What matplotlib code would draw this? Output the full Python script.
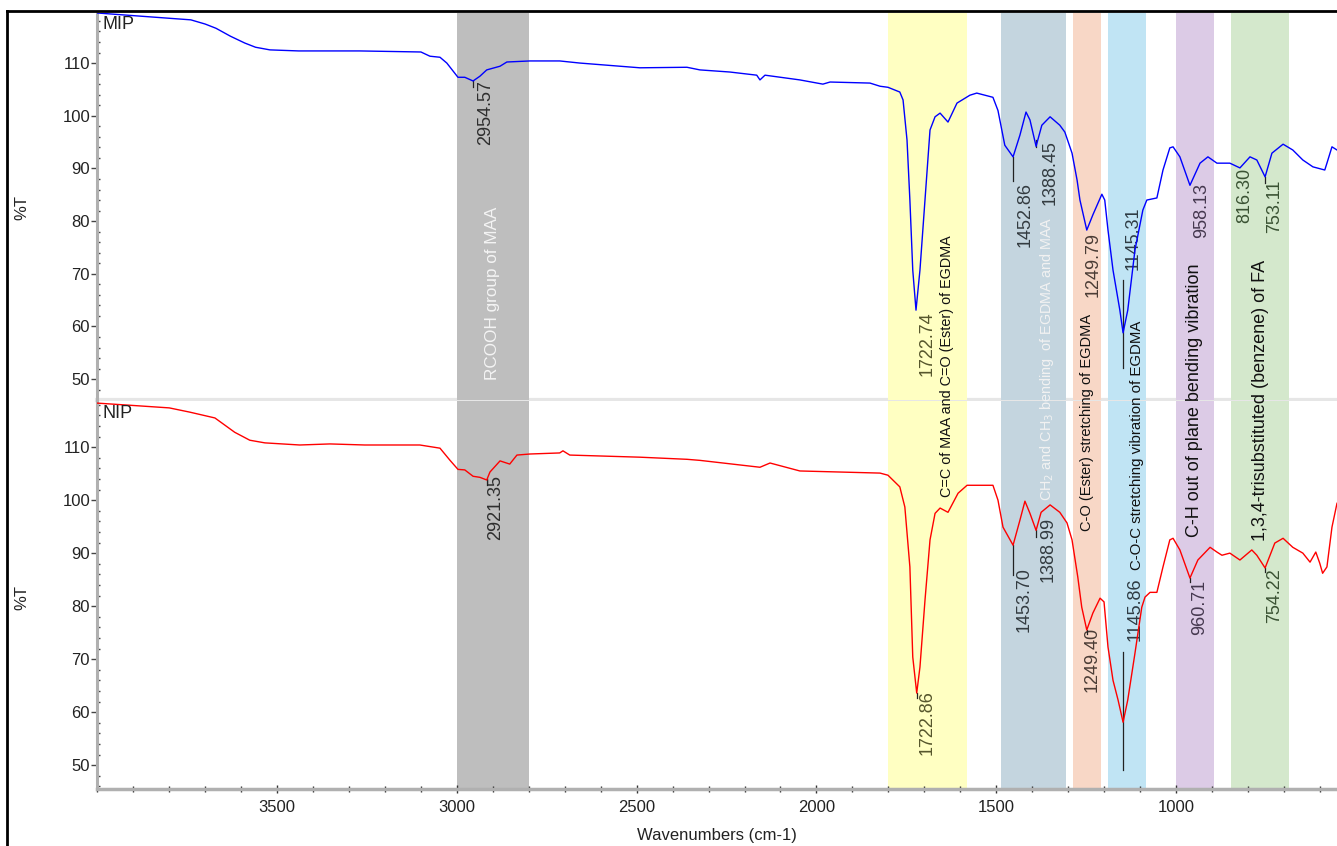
import numpy as np
import matplotlib
matplotlib.use("Agg")
import matplotlib.pyplot as plt
from matplotlib.lines import Line2D
from matplotlib.transforms import blended_transform_factory
from matplotlib.ticker import MultipleLocator, FixedLocator

plt.rcParams['font.family'] = ['Liberation Sans', 'DejaVu Sans']

# ---------------- data ----------------
mip_wn = [4000, 3880, 3740, 3700, 3670, 3630, 3590, 3560, 3520, 3440, 3270, 3100, 3075, 3047, 3028,
          2997, 2978, 2955, 2936, 2917, 2880, 2861, 2797, 2714, 2658, 2491, 2360, 2324, 2241, 2166,
          2157, 2143, 2046, 1982, 1962, 1851, 1823, 1801, 1768, 1759, 1748, 1740, 1732, 1723, 1712,
          1698, 1684, 1670, 1656, 1634, 1609, 1573, 1554, 1509, 1495, 1476, 1453, 1434, 1417, 1406,
          1389, 1373, 1350, 1323, 1309, 1289, 1275, 1267, 1248, 1231, 1206, 1198, 1189, 1175, 1156,
          1147, 1134, 1114, 1092, 1081, 1053, 1036, 1017, 1008, 989, 961, 933, 911, 886, 850,
          822, 794, 775, 752, 733, 702, 675, 647, 619, 586, 580, 566, 552]
mip_t = [119.5, 118.9, 118.2, 117.4, 116.6, 115.1, 113.8, 113.0, 112.5, 112.3, 112.3, 112.1, 111.3, 111.1, 110.0,
         107.3, 107.3, 106.6, 107.5, 108.7, 109.4, 110.2, 110.4, 110.4, 110.0, 109.1, 109.2, 108.7, 108.3, 107.7,
         106.8, 107.7, 106.8, 106.0, 106.4, 106.2, 105.6, 105.4, 104.5, 103.0, 95.4, 84.0, 70.7, 63.1, 70.7,
         84.0, 97.3, 99.8, 100.5, 98.8, 102.4, 103.9, 104.3, 103.5, 101.0, 94.4, 92.2, 96.3, 100.7, 99.2,
         94.2, 98.2, 99.8, 98.2, 96.9, 92.9, 87.8, 84.0, 78.3, 81.2, 85.1, 84.0, 78.3, 70.7, 63.1,
         58.8, 63.1, 74.5, 82.1, 84.0, 84.4, 89.7, 93.9, 94.1, 92.2, 86.8, 91.0, 92.2, 91.0, 91.0,
         90.1, 92.2, 91.6, 88.4, 92.9, 94.6, 93.5, 91.6, 90.3, 89.7, 91.0, 94.1, 93.5]

nip_wn = [4000, 3910, 3800, 3743, 3673, 3618, 3576, 3534, 3437, 3353, 3256, 3103, 3047, 3019, 2997,
          2978, 2955, 2936, 2917, 2908, 2880, 2853, 2833, 2797, 2714, 2705, 2686, 2491, 2360, 2324,
          2157, 2129, 2046, 1823, 1801, 1768, 1754, 1740, 1732, 1721, 1712, 1698, 1684, 1670, 1656,
          1634, 1606, 1581, 1509, 1495, 1481, 1453, 1434, 1420, 1406, 1389, 1375, 1350, 1323, 1303,
          1289, 1273, 1262, 1248, 1231, 1211, 1200, 1189, 1175, 1161, 1147, 1134, 1114, 1095, 1086,
          1072, 1053, 1036, 1017, 1008, 989, 961, 939, 905, 886, 872, 850, 822, 789, 775,
          752, 725, 702, 675, 647, 627, 611, 600, 592, 580, 566, 552]
nip_t = [118.3, 117.9, 117.4, 116.6, 115.5, 112.8, 111.3, 110.8, 110.4, 110.6, 110.4, 110.4, 109.8, 107.5, 105.8,
         105.7, 104.5, 104.3, 103.8, 105.3, 107.4, 106.8, 108.5, 108.7, 108.9, 109.3, 108.5, 108.1, 107.7, 107.5,
         106.2, 107.0, 105.5, 105.1, 104.7, 102.5, 98.7, 87.4, 70.4, 63.6, 68.5, 81.1, 92.5, 97.5, 98.5,
         97.7, 101.3, 102.8, 102.8, 100.0, 94.9, 91.5, 96.2, 99.8, 97.5, 94.3, 97.7, 99.1, 97.7, 95.7,
         92.5, 85.5, 79.8, 75.5, 78.7, 81.5, 80.8, 72.3, 66.0, 62.3, 58.1, 62.3, 71.1, 79.8, 81.7,
         82.6, 82.6, 87.4, 92.5, 92.8, 90.6, 85.3, 88.7, 91.1, 90.2, 89.6, 90.0, 88.7, 90.6, 89.6,
         87.2, 91.9, 92.8, 91.1, 90.0, 88.3, 90.2, 88.1, 86.2, 87.4, 94.9, 99.4]

band_hi = [3000, 1800, 1487, 1287, 1189, 1000, 847]
band_lo = [2800, 1580, 1306, 1209, 1083, 894, 686]
band_labels = ["RCOOH group of MAA",
               "C=C of MAA and C=O (Ester) of EGDMA",
               "CH$_2$ and CH$_3$ bending  of EGDMA and MAA",
               "C-O (Ester) stretching of EGDMA",
               "C-O-C stretching vibration of EGDMA",
               "C-H out of plane bending vibration",
               "1,3,4-trisubstituted (benzene) of FA"]

mip_peaks = ["2954.57", "1722.74", "1452.86", "1388.45", "1249.79", "1145.31", "958.13", "816.30", "753.11"]
nip_peaks = ["2921.35", "1722.86", "1453.70", "1388.99", "1249.40", "1145.86", "960.71", "754.22"]

x_ticks = [3500, 3000, 2500, 2000, 1500, 1000]
y_ticks = [50, 60, 70, 80, 90, 100, 110]

# ---------------- styling / layout ----------------
band_colors = ['#bebebe', '#ffffc2', '#c4d5df', '#f8d7c6', '#c0e4f4', '#dccbe6', '#d4e8cc']
band_text_colors = ['#f4f4f4', '#111111', '#f2f2f2', '#111111', '#111111', '#111111', '#111111']
band_text_sizes = [12.3, 10.4, 10.4, 10.5, 10.8, 13, 13]
band_text_x = [2900, 1637, 1359, 1248, 1109, 947, 766]
band_text_ypix = [293, 366, 359, 422, 445, 400, 400]

# peak label layout: (x centre, top value, colour)
mip_lab = [(2919, 106.8, '#2e2e2e'), (1693, 62.8, '#56562c'), (1420, 87.4, '#333b40'),
           (1350, 95.4, '#333b40'), (1231, 77.9, '#4a3c35'), (1120, 82.7, '#2f3c44'),
           (928, 87.2, '#45384f'), (808, 90.1, '#3a5233'), (725, 87.8, '#3a5233')]
nip_lab = [(2892, 104.7, '#2e2e2e'), (1693, 64.2, '#56562c'), (1423, 87.4, '#333b40'),
           (1356, 96.8, '#333b40'), (1234, 76.0, '#4a3c35'), (1114, 85.5, '#2f3c44'),
           (933, 84.9, '#45384f'), (725, 87.2, '#3a5233')]
mip_ticks = [(2955, 106.6, 105.5), (1453, 92.2, 87.6), (1389, 95.4, 94.0),
             (1147, 68.8, 52.1), (752, 88.4, 87.3)]
nip_ticks = [(2917, 103.8, 102.9), (1721, 63.6, 62.7), (1453, 91.5, 85.8), (1389, 94.3, 93.0),
             (1248, 75.5, 74.7), (1147, 71.3, 49.1), (961, 85.3, 84.6), (752, 87.2, 86.4)]

W, H = 1337, 846
fig = plt.figure(figsize=(W / 100, H / 100), dpi=100)


def fx(p):
    return p / W


def fy(p):
    return 1 - p / H


ax1 = fig.add_axes([fx(97), fy(400), 1 - fx(97), fy(13) - fy(400)])
ax2 = fig.add_axes([fx(97), fy(789), 1 - fx(97), fy(401) - fy(789)])

for ax, lim in ((ax1, (46.05, 119.5)), (ax2, (45.5, 118.7))):
    ax.set_xlim(4001, 552)
    ax.set_ylim(*lim)
    for lo, hi, c in zip(band_lo, band_hi, band_colors):
        ax.axvspan(lo, hi, color=c, lw=0, zorder=0)
    ax.yaxis.set_major_locator(FixedLocator(y_ticks))
    ax.yaxis.set_minor_locator(MultipleLocator(2))
    ax.tick_params(axis='y', which='major', direction='out', length=4, width=1,
                   color='#444444', labelsize=12, pad=1, labelcolor='#222222')
    ax.tick_params(axis='y', which='minor', direction='in', length=2, width=1, color='#444444')
    for s in ('top', 'right'):
        ax.spines[s].set_visible(False)
    ax.spines['left'].set_color('#b0b0b0')
    ax.spines['left'].set_linewidth(2.2)

ax1.plot(mip_wn, mip_t, color='#0000ff', lw=1.0, zorder=3)
ax2.plot(nip_wn, nip_t, color='#ff0000', lw=1.0, zorder=3)

# separator between panels, drawn beneath the bands
ax1.spines['bottom'].set_visible(False)
ax1.axhline(ax1.get_ylim()[0], color='#e6e6e6', lw=3, zorder=-1, clip_on=False)
ax1.set_ylim(46.05, 119.5)
ax1.tick_params(axis='x', which='both', bottom=False, labelbottom=False)

ax2.spines['bottom'].set_color('#b0b0b0')
ax2.spines['bottom'].set_linewidth(2.5)
ax2.xaxis.set_major_locator(FixedLocator(x_ticks))
ax2.xaxis.set_minor_locator(MultipleLocator(100))
ax2.tick_params(axis='x', which='major', direction='inout', length=6, width=1,
                color='#333333', labelsize=12, pad=5, labelcolor='#222222')
ax2.tick_params(axis='x', which='minor', direction='inout', length=4, width=1, color='#333333')

# peak labels
for ax, labs, lay, ticks in ((ax1, mip_peaks, mip_lab, mip_ticks), (ax2, nip_peaks, nip_lab, nip_ticks)):
    for txt, (x, y, c) in zip(labs, lay):
        ax.text(x, y, txt, rotation=90, ha='center', va='top', fontsize=13, color=c, zorder=2)
    for x, y0, y1 in ticks:
        ax.plot([x, x], [y0, y1], color='#222222', lw=0.9, zorder=2)

# band labels spanning both panels
tr = blended_transform_factory(ax1.transData, fig.transFigure)
for txt, x, yp, c, s in zip(band_labels, band_text_x, band_text_ypix, band_text_colors, band_text_sizes):
    fig.text(x, fy(yp), txt, transform=tr, rotation=90, ha='center', va='center',
             fontsize=s, color=c, zorder=5)

# panel labels
fig.text(fx(102), fy(16), 'MIP', ha='left', va='top', fontsize=13, color='#222222')
fig.text(fx(102), fy(405), 'NIP', ha='left', va='top', fontsize=13, color='#222222')
fig.text(fx(22), fy(207), '%T', rotation=90, ha='center', va='center', fontsize=12, color='#222222')
fig.text(fx(22), fy(597), '%T', rotation=90, ha='center', va='center', fontsize=12, color='#222222')
fig.text(fx(717), fy(835), 'Wavenumbers (cm-1)', ha='center', va='center', fontsize=12, color='#222222')

# outer frame (left and top)
fig.add_artist(Line2D([fx(7), fx(7)], [0, fy(11)], color='black', lw=2, transform=fig.transFigure))
fig.add_artist(Line2D([fx(7), 1], [fy(11), fy(11)], color='black', lw=2, transform=fig.transFigure))

fig.savefig('out.png', dpi=100)
